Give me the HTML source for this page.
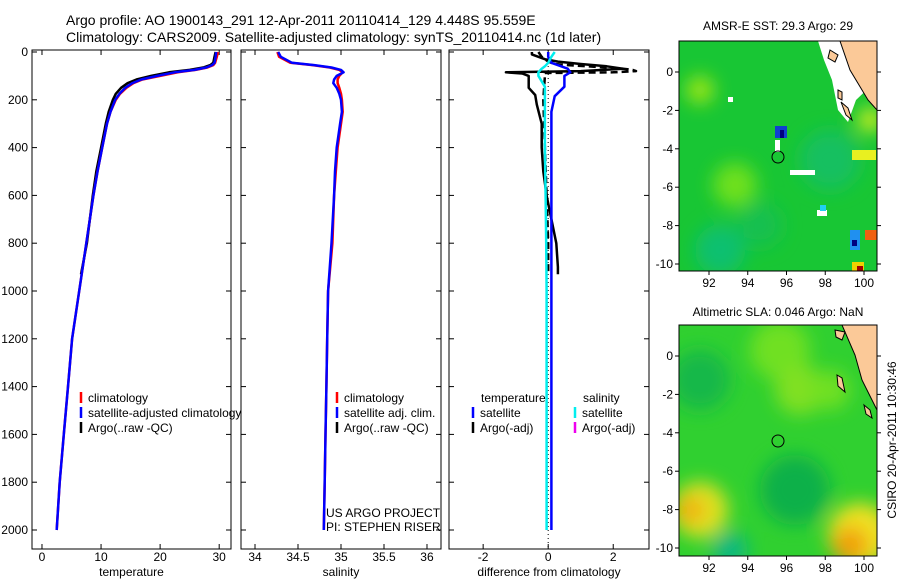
<!DOCTYPE html>
<html><head><meta charset="utf-8"><style>
body{margin:0;background:#fff;}
svg{display:block;font-family:"Liberation Sans",sans-serif;}
</style></head><body>
<svg id="fig" width="900" height="580">
<defs>
<filter id="bl" x="-50%" y="-50%" width="200%" height="200%"><feGaussianBlur stdDeviation="9"/></filter>
<clipPath id="c1"><rect x="679" y="41" width="198" height="230"/></clipPath>
<clipPath id="c2"><rect x="679" y="325" width="198" height="231"/></clipPath>
</defs>
<text x="66" y="25" font-size="14">Argo profile: AO 1900143_291 12-Apr-2011 20110414_129 4.448S 95.559E</text>
<text x="66" y="42" font-size="14">Climatology: CARS2009. Satellite-adjusted climatology: synTS_20110414.nc (1d later)</text>
<g id="plots"></g>
<!-- map 1 -->
<g clip-path="url(#c1)">
<rect x="679" y="41" width="198" height="230" fill="#18c634"/>
<g filter="url(#bl)">
<circle cx="700" cy="90" r="14" fill="#9be614"/>
<circle cx="735" cy="185" r="22" fill="#6ee01e"/>
<circle cx="830" cy="160" r="30" fill="#12c060"/>
<circle cx="720" cy="250" r="25" fill="#10c070"/>
<circle cx="760" cy="225" r="22" fill="#14c050"/>
<circle cx="870" cy="120" r="12" fill="#d8f020"/>
</g>
<rect x="852" y="150" width="24" height="10" fill="#e8f020"/>
<rect x="775" y="126" width="12" height="12" fill="#1040d0"/>
<rect x="780" y="130" width="4" height="8" fill="#000080"/>
<rect x="775" y="140" width="5" height="12" fill="#fff"/>
<rect x="790" y="170" width="25" height="5" fill="#fff"/>
<rect x="728" y="97" width="5" height="5" fill="#fff"/>
<rect x="817" y="210" width="10" height="6" fill="#fff"/>
<rect x="820" y="205" width="6" height="6" fill="#20d0f0"/>
<rect x="850" y="230" width="10" height="20" fill="#2090f0"/>
<rect x="852" y="240" width="5" height="6" fill="#000080"/>
<rect x="865" y="230" width="12" height="10" fill="#f06010"/>
<rect x="852" y="262" width="12" height="9" fill="#f0d000"/>
<rect x="857" y="266" width="6" height="5" fill="#a00000"/>
<polygon points="818,41 877,41 877,80 856,100 848,122 838,110 832,80 824,60" fill="#fff"/>
<polygon points="840,41 877,41 877,110 868,100 850,70" fill="#fbc998" stroke="#000" stroke-width="1"/>
<polygon points="830,50 838,55 835,62 828,58" fill="#fbc998" stroke="#000"/>
<polygon points="838,90 842,92 842,100 838,98" fill="#fbc998" stroke="#000"/>
<polygon points="841,102 848,108 852,120 846,115" fill="#fbc998" stroke="#000"/>
</g>
<rect x="679" y="41" width="198" height="230" fill="none" stroke="#000"/>
<circle cx="778" cy="157" r="6" fill="none" stroke="#000"/>
<text x="778" y="30" font-size="12" text-anchor="middle">AMSR-E SST: 29.3 Argo: 29</text>
<!-- map 2 -->
<g clip-path="url(#c2)">
<rect x="679" y="325" width="198" height="231" fill="#30d030"/>
<g filter="url(#bl)">
<circle cx="700" cy="380" r="30" fill="#18b848"/>
<circle cx="780" cy="350" r="30" fill="#70e020"/>
<circle cx="800" cy="390" r="25" fill="#80e020"/>
<circle cx="830" cy="390" r="20" fill="#70e020"/>
<circle cx="795" cy="490" r="35" fill="#10b048"/>
<circle cx="700" cy="510" r="28" fill="#e0e020"/>
<circle cx="690" cy="510" r="14" fill="#f0b010"/>
<circle cx="860" cy="535" r="32" fill="#f0e020"/>
<circle cx="850" cy="545" r="18" fill="#f0a010"/>
<circle cx="730" cy="550" r="18" fill="#10b880"/>
</g>
<polygon points="842,325 877,325 877,410 862,380 855,355" fill="#fbc998" stroke="#000"/>
<polygon points="835,330 845,332 842,340 836,337" fill="#fbc998" stroke="#000"/>
<polygon points="837,375 842,378 845,392 838,386" fill="#fbc998" stroke="#000"/>
<polygon points="864,405 870,410 872,418 866,414" fill="#fbc998" stroke="#000"/>
</g>
<rect x="679" y="325" width="198" height="231" fill="none" stroke="#000"/>
<circle cx="778" cy="441" r="6" fill="none" stroke="#000"/>
<text x="778" y="316" font-size="12" text-anchor="middle">Altimetric SLA: 0.046 Argo: NaN</text>
<text transform="translate(896,440) rotate(-90)" font-size="12" text-anchor="middle">CSIRO 20-Apr-2011 10:30:46</text>
<g id="maps"></g>
</svg>
<script>
// depth grid (m)
const depthC = [0,20,45,55,65,75,85,100,115,130,150,175,200,250,300,400,500,600,800,1000,1200,1400,1600,1800,2000];
const tempClim = [29.8,29.6,29.3,29,28,26,23,20,17,15.5,14.3,13.2,12.5,11.6,11,10.2,9.4,8.7,7.5,6.3,5.1,4.4,3.7,3.0,2.5];
const tempSat  = [29.5,29.4,29.2,28.8,27.8,25.8,22.5,19.5,16.8,15.3,14.1,13.1,12.4,11.6,11,10.2,9.4,8.7,7.5,6.3,5.1,4.4,3.7,3.0,2.5];
const depthA = [0,20,45,55,65,75,85,100,115,130,150,175,200,250,300,400,500,600,800,930];
const tempArgo = [29.4,29.2,29.0,28.5,27.3,25,21.5,18.5,16,14.5,13.4,12.5,12,11.3,10.8,10,9.2,8.6,7.6,6.6];
const salClim = [34.26,34.28,34.41,34.67,34.87,34.98,35.02,34.98,34.96,34.96,34.98,35.0,35.01,35.02,35.0,34.96,34.94,34.92,34.9,34.85,34.84,34.83,34.82,34.81,34.8];
const salSat  = [34.27,34.3,34.43,34.69,34.89,35.0,35.03,34.95,34.92,34.91,34.95,34.98,35.0,35.01,34.99,34.95,34.93,34.92,34.89,34.85,34.84,34.83,34.82,34.81,34.8];
const depthD = [0,10,20,30,40,50,60,70,80,85,90,100,120,150,180,220,300,400,500,600,700,800,900,930];
const dTempArgo = [-0.5,-0.5,-0.3,-0.1,0.3,1.0,1.8,2.3,1.0,-1.3,-0.8,-0.6,-0.6,-0.6,-0.4,-0.35,-0.2,-0.2,-0.15,-0.05,0.1,0.25,0.3,0.3];
const depthDS = [0,20,40,50,55,60,65,70,75,80,85,88,100,200,400,600,800,930];
const dSalArgo = [-0.3,-0.2,0,0.2,0.6,1.2,1.8,2.3,2.6,2.7,2.0,-0.1,-0.1,-0.15,-0.1,-0.05,0,0];
const depthS = [0,20,45,60,70,85,100,145,185,250,400,600,800,1000,1200,1400,1600,1800,2000];
const dTempSat = [0,0,0.1,0.4,0.6,0.68,0.5,0.5,0.2,0.1,0.1,0.1,0.1,0.1,0.1,0.1,0.1,0.1,0.1];
const dSalSat  = [0.2,0.1,0,-0.1,-0.2,-0.3,-0.3,-0.1,-0.1,-0.1,-0.1,-0.08,-0.06,-0.05,-0.05,-0.05,-0.05,-0.05,-0.05];
const yTicks = [0,200,400,600,800,1000,1200,1400,1600,1800,2000];
const x1Ticks = [0,10,20,30];
const x2Ticks = [34,34.5,35,35.5,36];
const x3Ticks = [-2,0,2];

const NS='http://www.w3.org/2000/svg';
const g=document.getElementById('plots');
function el(tag,attrs,parent){const e=document.createElementNS(NS,tag);for(const k in attrs)e.setAttribute(k,attrs[k]);(parent||g).appendChild(e);return e;}
const yTop=52, yPx=0.239; // px per m
const Y=d=>yTop+d*yPx;
const panels=[
 {x0:32,x1:231,v0:-1.69,v1:32.0,ticks:x1Ticks,label:'temperature',name:'temperature-panel'},
 {x0:241,x1:441,v0:33.837,v1:36.163,ticks:x2Ticks,label:'salinity',name:'salinity-panel'},
 {x0:449,x1:649,v0:-3.05,v1:3.1,ticks:x3Ticks,label:'difference from climatology',name:'difference-panel'}
];
panels.forEach((p,i)=>{
 p.X=v=>p.x0+(v-p.v0)/(p.v1-p.v0)*(p.x1-p.x0);
 const r=el('rect',{x:p.x0,y:50,width:p.x1-p.x0,height:499,fill:'none',stroke:'#000'});
 
 
 p.ticks.forEach(t=>{
  const x=p.X(t);
  el('line',{x1:x,x2:x,y1:549,y2:544,stroke:'#000'});
  el('line',{x1:x,x2:x,y1:50,y2:55,stroke:'#000'});
  const tx=el('text',{x:x,y:561,'font-size':12,'text-anchor':'middle'});
  tx.textContent=t;
  
  
 });
 const xl=el('text',{x:(p.x0+p.x1)/2,y:576,'font-size':12,'text-anchor':'middle'});
 xl.textContent=p.label;
 
 
 yTicks.forEach(d=>{
  el('line',{x1:p.x0,x2:p.x0+5,y1:Y(d),y2:Y(d),stroke:'#000'});
  el('line',{x1:p.x1,x2:p.x1-5,y1:Y(d),y2:Y(d),stroke:'#000'});
  if(i==0){const t=el('text',{x:28,y:Y(d)+4,'font-size':12,'text-anchor':'end'});t.textContent=d;
   
   }
 });
});
function line(p,depths,vals,color,name,dash){
 const pts=depths.map((d,k)=>p.X(vals[k]).toFixed(1)+','+Y(d).toFixed(1)).join(' ');
 const l=el('polyline',{points:pts,fill:'none',stroke:color,'stroke-width':2.5,'stroke-linejoin':'round'});
 if(dash)l.setAttribute('stroke-dasharray',dash);
 
 
}
const [P1,P2,P3]=panels;
el('line',{x1:P3.X(0),x2:P3.X(0),y1:50,y2:549,stroke:'#000','stroke-dasharray':'1,3'});
line(P1,depthA,tempArgo,'#000','temp-argo-line');
line(P1,depthC,tempClim,'#f00','temp-climatology-line');
line(P1,depthC,tempSat,'#00f','temp-satellite-line');
line(P2,depthC,salClim,'#f00','sal-climatology-line');
line(P2,depthC,salSat,'#00f','sal-satellite-line');
line(P3,depthDS,dSalArgo,'#000','sal-argo-diff-line','7,4');
line(P3,depthD,dTempArgo,'#000','temp-argo-diff-line');
line(P3,depthS,dTempSat,'#00f','temp-satellite-diff-line');
line(P3,depthS,dSalSat,'#0ee','sal-satellite-diff-line');
function legend(x,y,color,text){
 el('line',{x1:x,x2:x,y1:y-10,y2:y+1,stroke:color,'stroke-width':2.5});
 const t=el('text',{x:x+7,y:y,'font-size':12});t.textContent=text;
 
 
}
legend(81,402,'#f00','climatology');
legend(81,417,'#00f','satellite-adjusted climatology');
legend(81,432,'#000','Argo(..raw -QC)');
legend(337,402,'#f00','climatology');
legend(337,417,'#00f','satellite adj. clim.');
legend(337,432,'#000','Argo(..raw -QC)');
const tt=el('text',{x:481,y:402,'font-size':12});tt.textContent='temperature';


const ts=el('text',{x:583,y:402,'font-size':12});ts.textContent='salinity';


legend(473,417,'#00f','satellite');
legend(473,432,'#000','Argo(-adj)');
legend(575,417,'#0ee','satellite');
legend(575,432,'#e0e','Argo(-adj)');
const c1=el('text',{x:326,y:517,'font-size':12});c1.textContent='US ARGO PROJECT';


const c2=el('text',{x:326,y:531,'font-size':12});c2.textContent='PI: STEPHEN RISER';


const mg=document.getElementById('maps');
const lons=[92,94,96,98,100], lats=[0,-2,-4,-6,-8,-10];
[[72,264,271],[356,548,556]].forEach(([y0,y10,yb])=>{
 const LY=la=>y0+(y0-y10)/10*la;
 const LX=lo=>709+(lo-92)*19.375;
 lons.forEach(lo=>{const x=LX(lo);
  el('line',{x1:x,x2:x,y1:yb,y2:yb+4,stroke:'#000'},mg);
  const t=el('text',{x:x,y:yb+16,'font-size':12,'text-anchor':'middle'},mg);t.textContent=lo;
  
  });
 lats.forEach(la=>{const y=LY(la);
  el('line',{x1:679,x2:675,y1:y,y2:y,stroke:'#000'},mg);
  el('line',{x1:877,x2:881,y1:y,y2:y,stroke:'#000'},mg);
  const t=el('text',{x:673,y:y+4,'font-size':12,'text-anchor':'end'},mg);t.textContent=la;
  
  });
});
</script>
</body></html>
